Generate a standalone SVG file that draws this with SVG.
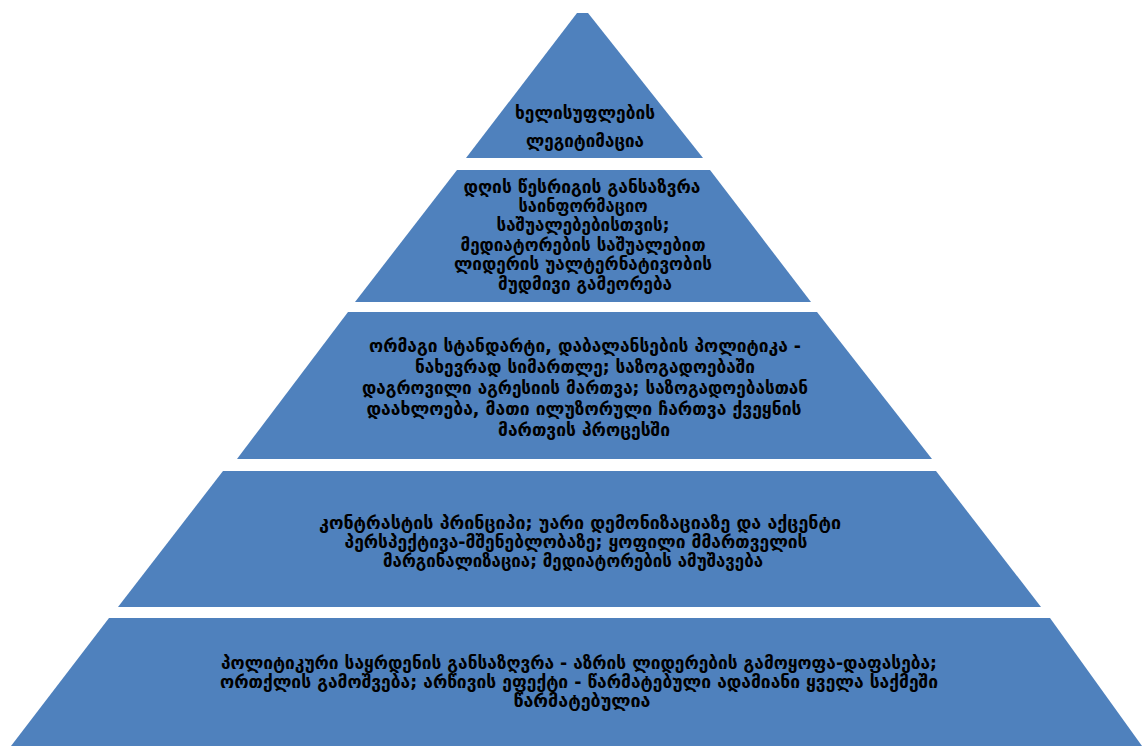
<svg xmlns="http://www.w3.org/2000/svg" width="1142" height="746" viewBox="0 0 1142 746">
<style>
.lv{fill:#4F81BD;stroke:none}
.t{font-family:"DejaVu Sans","Noto Sans",sans-serif;font-weight:bold;fill:#000;text-anchor:middle}
.a{font-size:18px}
.b{font-size:17.5px}
.c{font-size:17px}
</style>
<rect width="1142" height="746" fill="#FFFFFF"/>
<g id="level1">
<polygon class="lv" points="577,13 588,13 703,158 466,158"/>
<text class="t a" x="585" y="119" textLength="140" lengthAdjust="spacingAndGlyphs">ხელისუფლების</text>
<text class="t a" x="585" y="147" textLength="118" lengthAdjust="spacingAndGlyphs">ლეგიტიმაცია</text>
</g>
<g id="level2">
<polygon class="lv" points="457,170 710,170 811,302 355,302"/>
<text class="t b" x="582" y="193" textLength="237" lengthAdjust="spacingAndGlyphs">დღის წესრიგის განსაზვრა</text>
<text class="t b" x="583" y="212" textLength="129" lengthAdjust="spacingAndGlyphs">საინფორმაციო</text>
<text class="t b" x="583" y="231" textLength="173" lengthAdjust="spacingAndGlyphs">საშუალებებისთვის;</text>
<text class="t b" x="583" y="251" textLength="245" lengthAdjust="spacingAndGlyphs">მედიატორების საშუალებით</text>
<text class="t b" x="583" y="270" textLength="258" lengthAdjust="spacingAndGlyphs">ლიდერის უალტერნატივობის</text>
<text class="t b" x="585" y="290" textLength="174" lengthAdjust="spacingAndGlyphs">მუდმივი გამეორება</text>
</g>
<g id="level3">
<polygon class="lv" points="348,312 817,312 932,459 237,459"/>
<text class="t b" x="585" y="352" textLength="432" lengthAdjust="spacingAndGlyphs">ორმაგი სტანდარტი, დაბალანსების პოლიტიკა -</text>
<text class="t b" x="585" y="373" textLength="340" lengthAdjust="spacingAndGlyphs">ნახევრად სიმართლე; საზოგადოებაში</text>
<text class="t b" x="585" y="394" textLength="446" lengthAdjust="spacingAndGlyphs">დაგროვილი აგრესიის მართვა; საზოგადოებასთან</text>
<text class="t b" x="584" y="415" textLength="435" lengthAdjust="spacingAndGlyphs">დაახლოება, მათი ილუზორული ჩართვა ქვეყნის</text>
<text class="t b" x="584" y="436" textLength="172" lengthAdjust="spacingAndGlyphs">მართვის პროცესში</text>
</g>
<g id="level4">
<polygon class="lv" points="223,471 936,471 1041,607 118,607"/>
<text class="t c" x="580" y="529" textLength="522" lengthAdjust="spacingAndGlyphs">კონტრასტის პრინციპი; უარი დემონიზაციაზე და აქცენტი</text>
<text class="t c" x="576" y="548" textLength="463" lengthAdjust="spacingAndGlyphs">პერსპექტივა-მშენებლობაზე; ყოფილი მმართველის</text>
<text class="t c" x="573" y="567" textLength="380" lengthAdjust="spacingAndGlyphs">მარგინალიზაცია; მედიატორების ამუშავება</text>
</g>
<g id="level5">
<polygon class="lv" points="109,618 1050,618 1142,746 11,746"/>
<text class="t c" x="579" y="669" textLength="716" lengthAdjust="spacingAndGlyphs">პოლიტიკური საყრდენის განსაზღვრა - აზრის ლიდერების გამოყოფა-დაფასება;</text>
<text class="t c" x="579" y="688" textLength="718" lengthAdjust="spacingAndGlyphs">ორთქლის გამოშვება; არწივის ეფექტი - წარმატებული ადამიანი ყველა საქმეში</text>
<text class="t c" x="582" y="707" textLength="137" lengthAdjust="spacingAndGlyphs">წარმატებულია</text>
</g>
<g id="connectors"/>
</svg>
